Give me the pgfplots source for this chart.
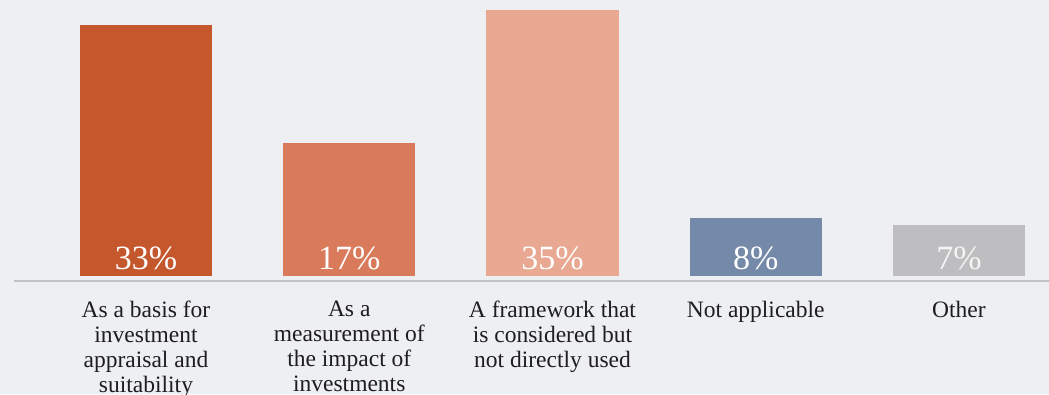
\documentclass[border=0pt]{standalone}
\usepackage{pgfplots}
\pgfplotsset{compat=1.18}
\usepackage{fontspec}
\setmainfont{Liberation Serif}
\definecolor{bg}{HTML}{EEEFF3}
\definecolor{cA}{HTML}{C5572C}
\definecolor{cB}{HTML}{D97A5A}
\definecolor{cC}{HTML}{E8A892}
\definecolor{cD}{HTML}{7589A8}
\definecolor{cE}{HTML}{BEBEC0}
\definecolor{baseln}{HTML}{C2C2C4}
\definecolor{txt}{HTML}{1E1E1E}
\begin{document}
\begin{tikzpicture}
\useasboundingbox (0,0) rectangle (1049pt,394pt);
\clip (0,0) rectangle (1049pt,394pt);
\fill[bg] (0,0) rectangle (1049pt,394pt);
\begin{axis}[
  at={(0,0)}, anchor=south west,
  scale only axis, width=1049pt, height=394pt,
  xmin=-0.7183, xmax=4.4428, ymin=-15.526, ymax=36.316,
  axis line style={draw=none},
  major tick length=0pt,
  ytick=\empty,
  xtick={0,1,2,3,4},
  xticklabels={{As a basis for\\investment\\appraisal and\\suitability},
               {As a\\measurement of\\the impact of\\investments},
               {A framework that\\is considered but\\not directly used},
               {Not applicable},
               {Other}},
  xticklabel style={align=center, font=\fontsize{23.5}{25}\selectfont, text=txt, inner sep=0pt, anchor=north, yshift=93pt},
  ybar, bar width=0.65,
  clip=false,
]
\addplot[fill=cA, draw=none, bar shift=0pt] coordinates {(0,33)};
\addplot[fill=cB, draw=none, bar shift=0pt] coordinates {(1,17.5)};
\addplot[fill=cC, draw=none, bar shift=0pt] coordinates {(2,35)};
\addplot[fill=cD, draw=none, bar shift=0pt] coordinates {(3,7.6)};
\addplot[fill=cE, draw=none, bar shift=0pt] coordinates {(4,6.7)};
\draw[line width=2pt, baseln] (axis cs:-0.649,-0.658) -- (axis cs:4.4428,-0.658);
\begin{scope}[every node/.style={anchor=base, font=\fontsize{34}{34}\selectfont}]
\node[text=white] at (axis cs:0,0.79) {33\%};
\node[text=white] at (axis cs:1,0.79) {17\%};
\node[text=white] at (axis cs:2,0.79) {35\%};
\node[text=white] at (axis cs:3,0.79) {8\%};
\node[text=white!92!gray] at (axis cs:4,0.79) {7\%};
\end{scope}
\end{axis}
\end{tikzpicture}
\end{document}
